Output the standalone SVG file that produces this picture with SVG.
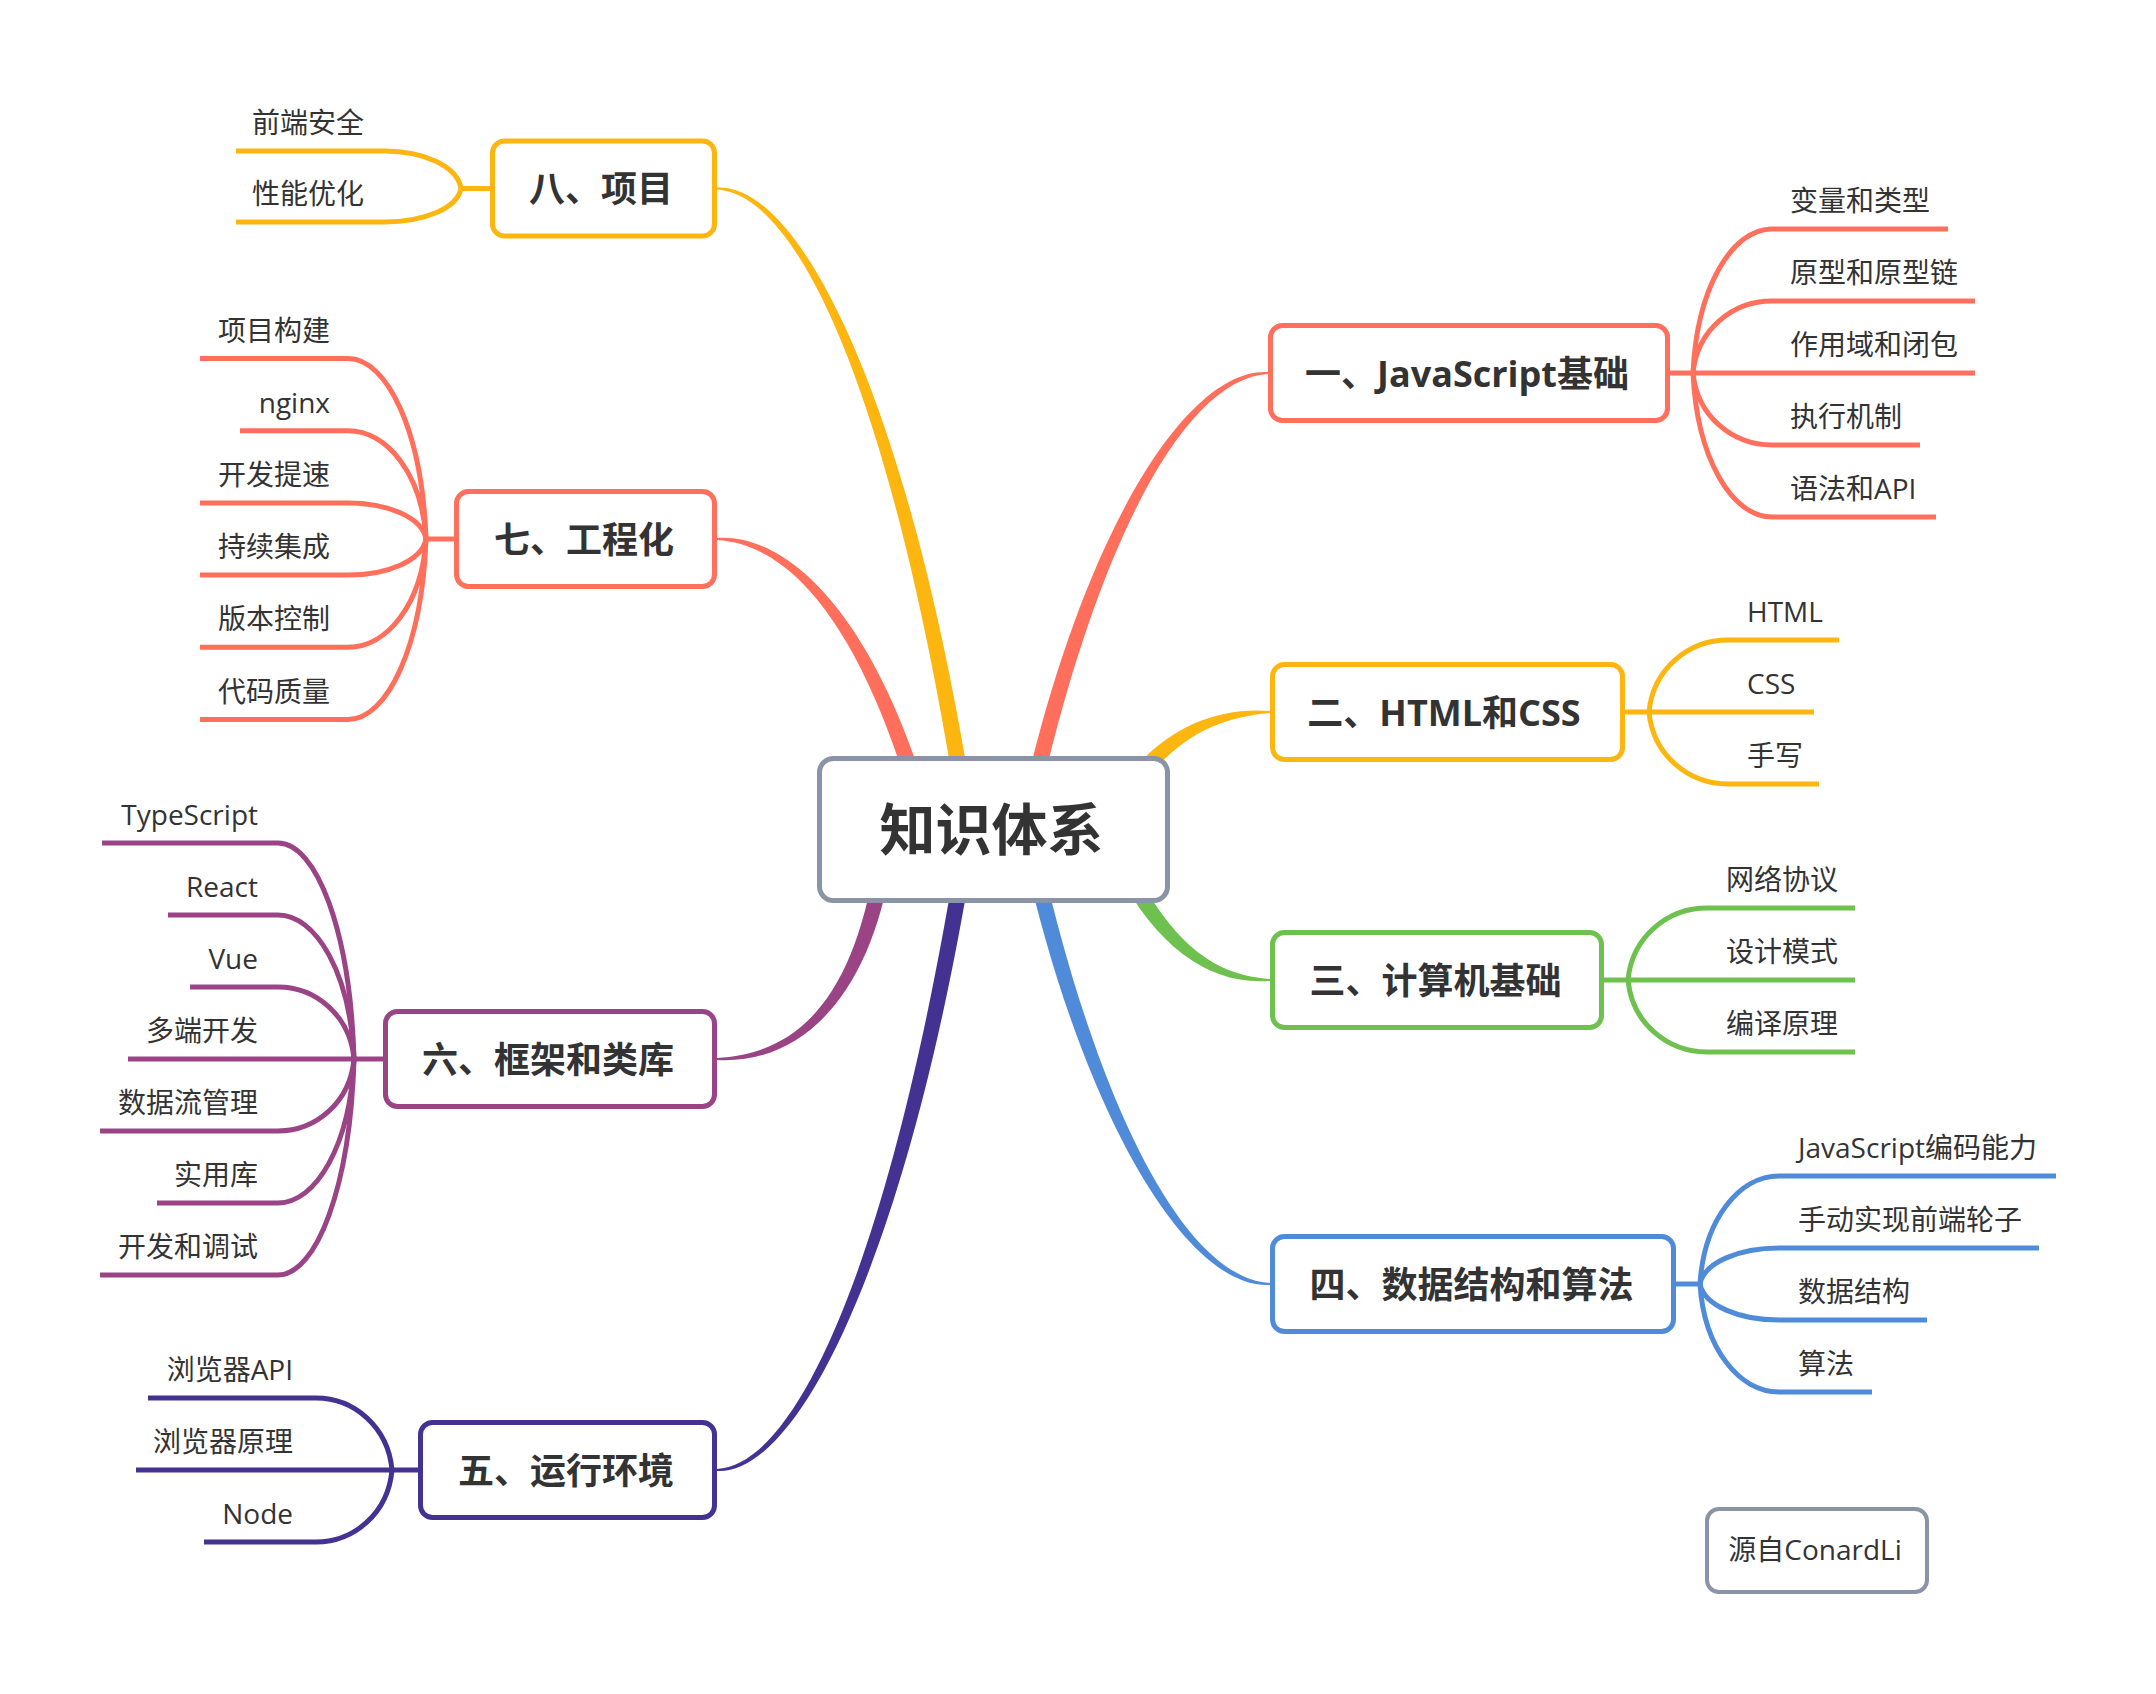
<svg xmlns="http://www.w3.org/2000/svg" width="2156" height="1694" viewBox="0 0 2156 1694">
<style>
.box{fill:#ffffff;stroke-width:5}
.main{font-family:"Open Sans","Noto Sans CJK SC",sans-serif;font-weight:bold;font-size:36px;fill:#333333;text-anchor:middle}
.center{font-family:"Open Sans","Noto Sans CJK SC",sans-serif;font-weight:bold;font-size:56px;fill:#333333;text-anchor:middle}
.sub{font-family:"Open Sans","Noto Sans CJK SC",sans-serif;font-size:28px;fill:#333333}
.l{text-anchor:end}
.line{fill:none;stroke-width:5}
.yel{stroke:#FDB50F}.cor{stroke:#FF6F5B}.grn{stroke:#6FC14F}.blu{stroke:#508BDA}.ind{stroke:#443292}.pur{stroke:#9A4486}.gry{stroke:#8A94A6}
</style>
<rect width="2156" height="1694" fill="#ffffff"/>
<g id="connectors">
  <path d="M717,187.5 C800,183 907.9,398.7 971.9,798.7 L956.1,801.3 C892.1,401.3 800,194 717,189.5 Z" fill="#FDB50F"/>
  <path d="M717,538 C790,533.5 873.6,617.7 927.6,797.7 L912.4,802.3 C858.4,622.3 790,544.5 717,540 Z" fill="#FF6F5B"/>
  <path d="M1268,372 C1185,367.5 1082.2,538.2 1023.2,798.2 L1038.8,801.8 C1097.8,541.8 1185,378.5 1268,374 Z" fill="#FF6F5B"/>
  <path d="M1270,711 C1218,706.5 1163.5,727.3 1123.5,782.3 L1136.5,791.7 C1176.5,736.7 1218,717.5 1270,713 Z" fill="#FDB50F"/>
  <path d="M1270,979 C1210,974.5 1172.1,940.2 1132.1,865.2 L1117.9,872.8 C1157.9,947.8 1210,985.5 1270,981 Z" fill="#6FC14F"/>
  <path d="M1270,1283 C1185,1278.5 1097.8,1106.2 1040.8,856.2 L1025.2,859.8 C1082.2,1109.8 1185,1289.5 1270,1285 Z" fill="#508BDA"/>
  <path d="M717,1469 C800,1464.5 892.1,1247.7 956.1,857.7 L971.9,860.3 C907.9,1250.3 800,1475.5 717,1471 Z" fill="#443292"/>
  <path d="M717,1058 C800,1053.5 854.1,996.8 876.1,856.8 L891.9,859.2 C869.9,999.2 800,1064.5 717,1060 Z" fill="#9A4486"/>

  <g class="line yel">
    <path d="M461,188.5 H490"/>
    <path d="M236,151 H385 C423,151 457.2,166 461,188.5"/>
    <path d="M236,222 H385 C423,222 457.2,208.6 461,188.5"/>
  </g>
  <g class="line cor">
    <path d="M426,539 H454"/>
    <path d="M200,358.5 H348 C387,358.5 422.1,430.7 426,539"/>
    <path d="M240,430.7 H348 C387,430.7 422.1,474 426,539"/>
    <path d="M200,502.9 H348 C387,502.9 422.1,517.3 426,539"/>
    <path d="M200,575.1 H348 C387,575.1 422.1,560.7 426,539"/>
    <path d="M200,647.3 H348 C387,647.3 422.1,604 426,539"/>
    <path d="M200,719.5 H348 C387,719.5 422.1,647.3 426,539"/>
  </g>
  <g class="line pur">
    <path d="M102,843 H278 C316,843 350.2,929.4 354,1059"/>
    <path d="M168,915 H278 C316,915 350.2,972.6 354,1059"/>
    <path d="M190,987 H278 C316,987 350.2,1015.8 354,1059"/>
    <path d="M128,1059 H383"/>
    <path d="M100,1131 H278 C316,1131 350.2,1102.2 354,1059"/>
    <path d="M157,1203 H278 C316,1203 350.2,1145.4 354,1059"/>
    <path d="M100,1275 H278 C316,1275 350.2,1188.6 354,1059"/>
  </g>
  <g class="line ind">
    <path d="M148,1398 H316 C354,1398 388.2,1426.8 392,1470"/>
    <path d="M136,1470 H418"/>
    <path d="M204,1542 H316 C354,1542 388.2,1513.2 392,1470"/>
  </g>
  <g class="line cor">
    <path d="M1948,229 H1772 C1732.5,229 1697,286.6 1693,373"/>
    <path d="M1975,301 H1772 C1732.5,301 1697,329.8 1693,373"/>
    <path d="M1975,373 H1670"/>
    <path d="M1920,445 H1772 C1732.5,445 1697,416.2 1693,373"/>
    <path d="M1936,517 H1772 C1732.5,517 1697,459.4 1693,373"/>
  </g>
  <g class="line yel">
    <path d="M1839,640 H1728 C1688.5,640 1653,668.8 1649,712"/>
    <path d="M1814,712 H1625"/>
    <path d="M1819,784 H1728 C1688.5,784 1653,755.2 1649,712"/>
  </g>
  <g class="line grn">
    <path d="M1855,908 H1707 C1667.5,908 1632,936.8 1628,980"/>
    <path d="M1855,980 H1604"/>
    <path d="M1855,1052 H1707 C1667.5,1052 1632,1023.2 1628,980"/>
  </g>
  <g class="line blu">
    <path d="M2056,1176 H1779 C1739.5,1176 1704,1219.2 1700,1284"/>
    <path d="M2039,1248 H1779 C1739.5,1248 1704,1262.4 1700,1284"/>
    <path d="M1927,1320 H1779 C1739.5,1320 1704,1305.6 1700,1284"/>
    <path d="M1872,1392 H1779 C1739.5,1392 1704,1348.8 1700,1284"/>
    <path d="M1676,1284 H1700"/>
  </g>
</g>

<g id="root">
  <rect class="box gry" x="819.5" y="758.5" width="348" height="142" rx="14"/>
  <text class="center" x="991.5" y="850">知识体系</text>
</g>

<g id="n1">
  <rect class="box cor" x="1270.5" y="325.5" width="397" height="95" rx="12"/>
  <text class="main" x="1467" y="386.5">一、JavaScript基础</text>
</g>
<g id="n1-children">
  <text class="sub" x="1790" y="211">变量和类型</text>
  <text class="sub" x="1790" y="283">原型和原型链</text>
  <text class="sub" x="1790" y="355">作用域和闭包</text>
  <text class="sub" x="1790" y="427">执行机制</text>
  <text class="sub" x="1790" y="499">语法和API</text>
</g>

<g id="n2">
  <rect class="box yel" x="1272.5" y="664.5" width="350" height="95" rx="12"/>
  <text class="main" x="1444" y="725.5">二、HTML和CSS</text>
</g>
<g id="n2-children">
  <text class="sub" x="1747" y="622">HTML</text>
  <text class="sub" x="1747" y="694">CSS</text>
  <text class="sub" x="1747" y="766">手写</text>
</g>

<g id="n3">
  <rect class="box grn" x="1272.5" y="932.5" width="329" height="95" rx="12"/>
  <text class="main" x="1435.5" y="993.5">三、计算机基础</text>
</g>
<g id="n3-children">
  <text class="sub" x="1726" y="890">网络协议</text>
  <text class="sub" x="1726" y="962">设计模式</text>
  <text class="sub" x="1726" y="1034">编译原理</text>
</g>

<g id="n4">
  <rect class="box blu" x="1272.5" y="1236.5" width="401" height="95" rx="12"/>
  <text class="main" x="1471.5" y="1297.5">四、数据结构和算法</text>
</g>
<g id="n4-children">
  <text class="sub" x="1798" y="1158">JavaScript编码能力</text>
  <text class="sub" x="1798" y="1230">手动实现前端轮子</text>
  <text class="sub" x="1798" y="1302">数据结构</text>
  <text class="sub" x="1798" y="1374">算法</text>
</g>

<g id="n5">
  <rect class="box ind" x="420.5" y="1422.5" width="294" height="95" rx="12"/>
  <text class="main" x="566" y="1483.5">五、运行环境</text>
</g>
<g id="n5-children">
  <text class="sub l" x="293" y="1380">浏览器API</text>
  <text class="sub l" x="293" y="1452">浏览器原理</text>
  <text class="sub l" x="293" y="1524">Node</text>
</g>

<g id="n6">
  <rect class="box pur" x="385.5" y="1011.5" width="329" height="95" rx="12"/>
  <text class="main" x="548" y="1072.5">六、框架和类库</text>
</g>
<g id="n6-children">
  <text class="sub l" x="258" y="825">TypeScript</text>
  <text class="sub l" x="258" y="897">React</text>
  <text class="sub l" x="258" y="969">Vue</text>
  <text class="sub l" x="258" y="1041">多端开发</text>
  <text class="sub l" x="258" y="1113">数据流管理</text>
  <text class="sub l" x="258" y="1185">实用库</text>
  <text class="sub l" x="258" y="1257">开发和调试</text>
</g>

<g id="n7">
  <rect class="box cor" x="456.5" y="491.5" width="258" height="95" rx="12"/>
  <text class="main" x="584" y="552.5">七、工程化</text>
</g>
<g id="n7-children">
  <text class="sub l" x="330" y="340.5">项目构建</text>
  <text class="sub l" x="330" y="412.7">nginx</text>
  <text class="sub l" x="330" y="484.9">开发提速</text>
  <text class="sub l" x="330" y="557.1">持续集成</text>
  <text class="sub l" x="330" y="629.3">版本控制</text>
  <text class="sub l" x="330" y="701.5">代码质量</text>
</g>

<g id="n8">
  <rect class="box yel" x="492.5" y="141" width="222" height="95" rx="12"/>
  <text class="main" x="601" y="202">八、项目</text>
</g>
<g id="n8-children">
  <text class="sub l" x="364" y="133">前端安全</text>
  <text class="sub l" x="364" y="204">性能优化</text>
</g>

<g id="source">
  <rect x="1707" y="1509" width="220" height="83" rx="12" fill="#ffffff" stroke="#8A94A6" stroke-width="4"/>
  <text class="sub" x="1815" y="1560" text-anchor="middle">源自ConardLi</text>
</g>
</svg>
